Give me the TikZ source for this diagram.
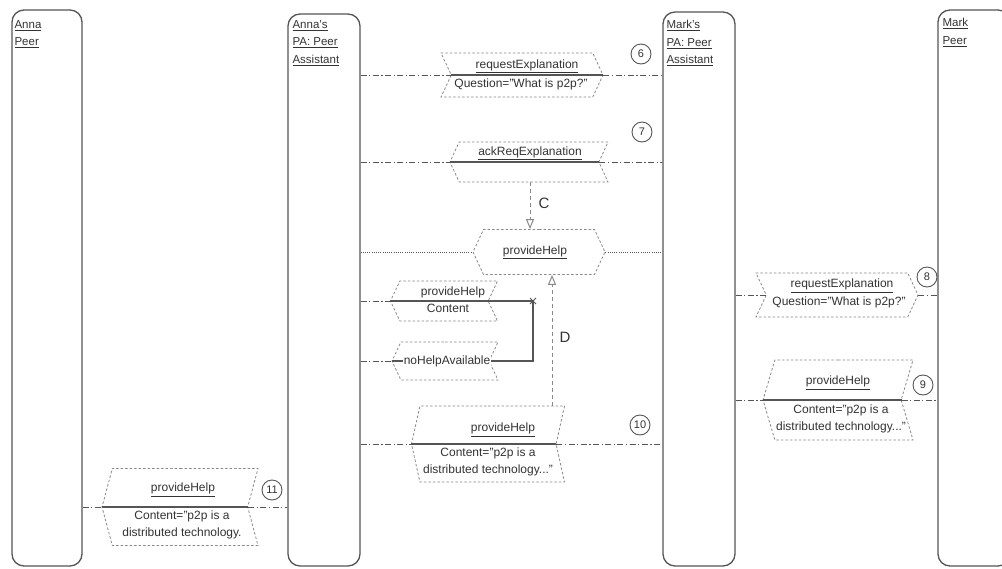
\documentclass[tikz,border=0pt]{standalone}
\usepackage{fontspec}
\setmainfont{Liberation Sans}
\usetikzlibrary{shapes.symbols,shapes.misc,arrows.meta}
\definecolor{lc}{HTML}{555555}
\definecolor{tc}{HTML}{333333}
\definecolor{bc}{HTML}{8A8A8A}
\begin{document}
\begin{tikzpicture}[x=1pt,y=-1pt,
  life/.style={draw=lc, line width=1.3pt, rounded corners=12pt, inner sep=0},
  lifelbl/.style={text=tc, font=\fontsize{11.5}{17.5}\selectfont, align=left, inner sep=0},
  msgR/.style={signal, signal to=east, signal from=west, draw=bc, dash pattern=on 2.5pt off 2pt, line width=0.8pt, inner sep=0},
  msgL/.style={signal, signal to=west, signal from=east, draw=bc, dash pattern=on 2.5pt off 2pt, line width=0.8pt, inner sep=0},
  msgB/.style={signal, signal to=east and west, draw=bc, dash pattern=on 2.5pt off 2pt, line width=0.8pt, inner sep=0},
  dd/.style={draw=lc, line width=0.9pt, dash pattern=on 6pt off 2.5pt on 1.2pt off 2.5pt},
  dotl/.style={draw=lc, line width=0.9pt, dash pattern=on 1pt off 1.2pt},
  msgline/.style={draw=lc, line width=1.1pt},
  dep/.style={draw=bc, line width=1pt, dash pattern=on 4pt off 3pt, -{Triangle[open, length=10pt, width=8pt]}},
  txt/.style={text=tc, font=\fontsize{12}{17}\selectfont, inner sep=0.5pt, align=center},
  num/.style={circle, draw=lc, line width=0.9pt, minimum size=20pt, inner sep=0, text=tc, font=\fontsize{11}{12}\selectfont},
  big/.style={text=tc, font=\fontsize{15}{18}\selectfont, inner sep=0}]
\useasboundingbox (0,0) rectangle (1002,568);
\clip (0,0) rectangle (1002,568);
\fill[white] (0,0) rectangle (1002,568);

% lifelines
\node[life, minimum width=70pt, minimum height=556pt] (ap) at (47,288) {};
\node[life, minimum width=72pt, minimum height=552pt] (apa) at (324,290) {};
\node[life, minimum width=72pt, minimum height=554pt] (mpa) at (699,289) {};
\node[life, minimum width=72pt, minimum height=556pt] (mp) at (974,288) {};
\node[lifelbl, anchor=north west] at ([xshift=3pt, yshift=-11pt]ap.north west) {\underline{Anna}\\\underline{Peer}};
\node[lifelbl, anchor=north west] at ([xshift=5pt, yshift=-7pt]apa.north west) {\underline{Anna's}\\\underline{PA: Peer}\\\underline{Assistant}};
\node[lifelbl, anchor=north west] at ([xshift=4pt, yshift=-9pt]mpa.north west) {\underline{Mark's}\\\underline{PA: Peer}\\\underline{Assistant}};
\node[lifelbl, anchor=north west] at ([xshift=5pt, yshift=-9pt]mp.north west) {\underline{Mark}\\\underline{Peer}};

% message boxes
\node[msgR, minimum width=162pt, minimum height=44pt, signal pointer angle=130] (m6) at (522,75) {};
\node[msgL, minimum width=158pt, minimum height=40pt, signal pointer angle=131] (m7) at (529,162) {};
\node[msgB, minimum width=132pt, minimum height=45pt, signal pointer angle=130] (ph) at (539,252) {};
\node[msgL, minimum width=107pt, minimum height=40pt, signal pointer angle=130] (m4) at (444,301) {};
\node[msgL, minimum width=106pt, minimum height=38pt, signal pointer angle=130] (m5) at (445,361) {};
\node[msgL, minimum width=153pt, minimum height=76pt, signal pointer angle=155] (m10) at (488,444) {};
\node[msgR, minimum width=162pt, minimum height=44pt, signal pointer angle=130] (m8) at (837,295) {};
\node[msgL, minimum width=150pt, minimum height=80pt, signal pointer angle=147] (m9) at (838,400) {};
\node[msgL, minimum width=156pt, minimum height=77pt, signal pointer angle=150] (m11) at (180,507) {};

% message lines
\draw[dd] (apa.east |- m6.west) -- (m6.west);
\draw[msgline] (m6.west) -- (m6.east);
\draw[dd] (m6.east) -- (mpa.west |- m6.east);

\draw[dd] (apa.east |- m7.west) -- (m7.west);
\draw[msgline] (m7.west) -- (m7.east);
\draw[dd] (m7.east) -- (mpa.west |- m7.east);

\draw[dotl] (apa.east |- ph.west) -- (ph.west);
\draw[dotl] (ph.east) -- (mpa.west |- ph.east);

\node[cross out, draw=lc, line width=1pt, minimum size=5pt, inner sep=0] (xm) at (533,301) {};
\draw[dd] (apa.east |- m4.west) -- (m4.west);
\draw[msgline] (m4.west) -- (xm.center);
\draw[msgline] (xm.center) -- (xm.center |- m5.east) -- (m5.west);
\draw[dd] (apa.east |- m5.west) -- (m5.west);

\draw[dd] (apa.east |- m10.west) -- (m10.west);
\draw[msgline] (m10.west) -- (m10.east);
\draw[dd] (m10.east) -- (mpa.west |- m10.east);

\draw[dd] (mpa.east |- m8.west) -- (m8.west);
\draw[dd] (m8.east) -- (mp.west |- m8.east);

\draw[dd] (mpa.east |- m9.west) -- (m9.west);
\draw[msgline] (m9.west) -- (m9.east);
\draw[dd] (m9.east) -- (mp.west |- m9.east);

\draw[dd] (ap.east |- m11.west) -- (m11.west);
\draw[msgline] (m11.west) -- (m11.east);
\draw[dd] (m11.east) -- (apa.west |- m11.east);

% dependencies
\coordinate (cx) at (530,0);
\coordinate (dx) at (552,0);
\draw[dep] (cx |- m7.south) -- (cx |- ph.north);
\draw[dep] (dx |- m10.north) -- (dx |- ph.south);
\node[big] (lc) at (544,203) {C};
\node[big] (ld) at (565,337) {D};

% texts
\node[txt, anchor=south] at ([xshift=5pt, yshift=1.5pt]m6.center) {\underline{requestExplanation}};
\node[txt, anchor=north] at ([xshift=-1pt, yshift=-3pt]m6.center) {Question="What is p2p?"};
\node[txt, anchor=south] at ([xshift=1pt, yshift=1.5pt]m7.center) {\underline{ackReqExplanation}};
\node[txt] at ([xshift=-4pt]ph.center) {\underline{provideHelp}};
\node[txt, anchor=south] at ([xshift=9pt, yshift=2pt]m4.center) {provideHelp};
\node[txt, anchor=north] at ([xshift=4pt, yshift=-2pt]m4.center) {Content};
\node[txt, fill=white] at ([xshift=2pt]m5.center) {noHelpAvailable};
\node[txt, anchor=south] at ([xshift=15pt, yshift=7pt]m10.center) {\underline{provideHelp}};
\node[txt, anchor=north] at ([yshift=-3pt]m10.center) {Content="p2p is a\\distributed technology..."};
\node[txt, anchor=south] at ([xshift=5pt, yshift=2pt]m8.center) {\underline{requestExplanation}};
\node[txt, anchor=north] at ([xshift=2pt, yshift=-1pt]m8.center) {Question="What is p2p?"};
\node[txt, anchor=south] at ([xshift=0pt, yshift=10pt]m9.center) {\underline{provideHelp}};
\node[txt, anchor=north] at ([xshift=3pt, yshift=-4pt]m9.center) {Content="p2p is a\\distributed technology..."};
\node[txt, anchor=south] at ([xshift=3pt, yshift=10pt]m11.center) {\underline{provideHelp}};
\node[txt, anchor=north] at ([xshift=2pt, yshift=-3pt]m11.center) {Content="p2p is a\\distributed technology.};

% step numbers
\node[num] (n6) at (641,54) {6};
\node[num] (n7) at (642,132) {7};
\node[num] (n8) at (927,277) {8};
\node[num] (n9) at (923,385) {9};
\node[num] (n10) at (640,425) {10};
\node[num] (n11) at (272,490) {11};
\end{tikzpicture}
\end{document}
